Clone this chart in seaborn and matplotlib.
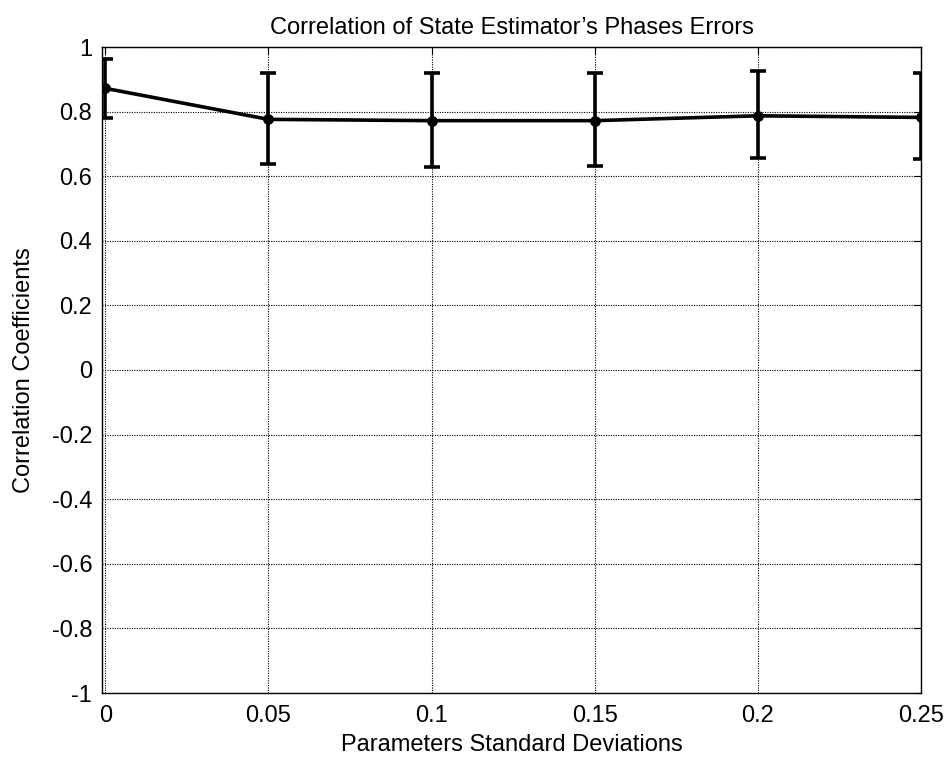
import numpy as np
import pandas as pd
import seaborn as sns
import matplotlib
matplotlib.use("Agg")
import matplotlib.pyplot as plt

# Parameter standard deviations and the estimated correlation coefficients
std_devs = [0.0, 0.05, 0.10, 0.15, 0.20, 0.25]
corr_mean = [0.872, 0.776, 0.772, 0.772, 0.787, 0.782]
corr_low = [0.781, 0.639, 0.629, 0.633, 0.657, 0.652]
corr_high = [0.962, 0.920, 0.920, 0.920, 0.927, 0.921]

x_ticks = [0, 0.05, 0.1, 0.15, 0.2, 0.25]
x_tick_labels = ["0", "0.05", "0.1", "0.15", "0.2", "0.25"]
y_ticks = [-1, -0.8, -0.6, -0.4, -0.2, 0, 0.2, 0.4, 0.6, 0.8, 1]
y_tick_labels = ["-1", "-0.8", "-0.6", "-0.4", "-0.2", "0", "0.2", "0.4", "0.6", "0.8", "1"]

df = pd.DataFrame({"sd": std_devs, "corr": corr_mean,
                   "low": corr_low, "high": corr_high})

sns.set_theme(style="white")
plt.rcParams["font.family"] = ["Liberation Sans", "DejaVu Sans"]
plt.rcParams["text.color"] = "black"
plt.rcParams["axes.labelcolor"] = "black"
fs = 17

fig = plt.figure(figsize=(9.49, 7.63), dpi=100)
ax = fig.add_axes([102 / 949, 1 - 693 / 763, (921 - 102) / 949, (693 - 47) / 763])

yerr = np.vstack([df["corr"] - df["low"], df["high"] - df["corr"]])
ax.errorbar(df["sd"], df["corr"], yerr=yerr, fmt="none", ecolor="black",
            elinewidth=2.6, capsize=5.5, capthick=2.6, zorder=3, clip_on=True)
sns.lineplot(data=df, x="sd", y="corr", ax=ax, color="black", linewidth=2.6,
             marker="o", markersize=7, markeredgecolor="black", zorder=4,
             clip_on=True)

ax.set_xlim(-0.001, 0.25)
ax.set_ylim(-1, 1)
ax.set_xticks(x_ticks)
ax.set_xticklabels(x_tick_labels)
ax.set_yticks(y_ticks)
ax.set_yticklabels(y_tick_labels)

ax.grid(True, color="black", linestyle=(0, (1, 1.2)), linewidth=0.8)
ax.tick_params(direction="in", length=5, width=0.8, colors="black",
               labelcolor="black", top=True, right=True, labelsize=fs)
ax.tick_params(axis="x", pad=9)
ax.tick_params(axis="y", pad=7)
for s in ax.spines.values():
    s.set_color("black")
    s.set_linewidth(1.0)

ax.set_title("Correlation of State Estimator\u2019s Phases Errors", fontsize=fs,
             pad=9, color="black")
ax.set_xlabel("Parameters Standard Deviations", fontsize=fs, labelpad=5, color="black")
ax.set_ylabel("Correlation Coefficients", fontsize=fs, labelpad=12, color="black")

fig.savefig("out.png", dpi=100)
